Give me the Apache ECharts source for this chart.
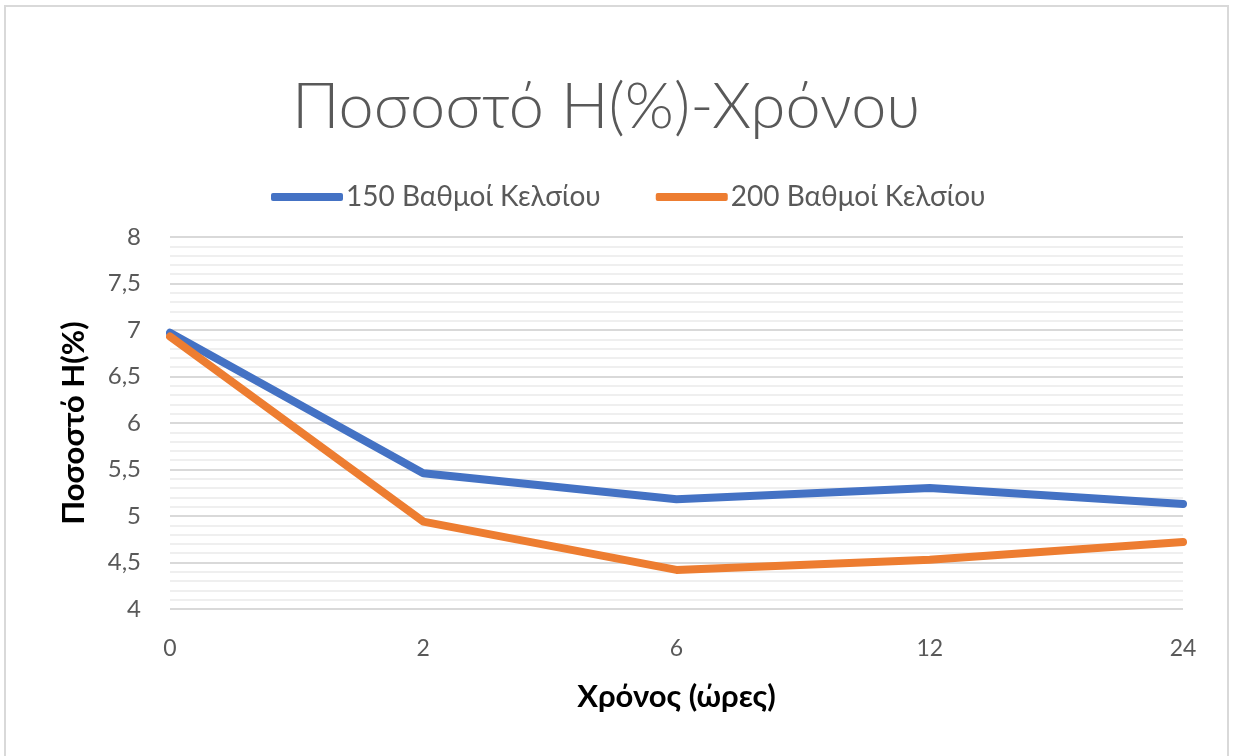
<!DOCTYPE html>
<html>
<head>
<meta charset="utf-8">
<script src="https://cdn.jsdelivr.net/npm/echarts@6/dist/echarts.min.js"></script>
<style>
  html, body { margin: 0; padding: 0; background: #fff; }
  #frame { position: absolute; left: 4px; top: 5px; width: 1225px; height: 800px; border: 2px solid #d9d9d9; box-sizing: border-box; }
  #chart { position: absolute; left: 0; top: 0; width: 1237px; height: 756px; }
</style>
</head>
<body>
<div id="frame"></div>
<div id="chart"></div>
<script>
// Hours of treatment
const hours = ['0', '2', '6', '12', '24'];
// Moisture content H(%) at each time
const series150 = [6.97, 5.46, 5.18, 5.30, 5.13];
const series200 = [6.93, 4.94, 4.42, 4.53, 4.72];
const seriesNames = ['150 Βαθμοί Κελσίου', '200 Βαθμοί Κελσίου'];

const FONT = 'Lato, "Open Sans", sans-serif';
const chart = echarts.init(document.getElementById('chart'), null, { renderer: 'canvas' });

const lineSeries = (name, data, color) => ({
  name: name,
  type: 'line',
  data: data,
  showSymbol: false,
  symbol: 'none',
  smooth: false,
  lineStyle: { color: color, width: 8, cap: 'round', join: 'round' },
  itemStyle: { color: color },
  emphasis: { disabled: true }
});

chart.setOption({
  animation: false,
  backgroundColor: 'transparent',
  title: {
    text: 'Ποσοστό Η(%)-Χρόνου',
    left: 287,
    top: 71,
    textStyle: { fontFamily: FONT, fontWeight: 300, fontSize: 63, color: '#595959' }
  },
  legend: {
    top: 178,
    left: 266,
    icon: 'roundRect',
    itemWidth: 72,
    itemHeight: 8,
    itemGap: 55,
    textStyle: { fontFamily: FONT, fontSize: 28, color: '#595959', padding: [0, 0, 0, -2] },
    data: seriesNames
  },
  grid: { left: 170, right: 54, top: 237, bottom: 147, containLabel: false },
  xAxis: {
    type: 'category',
    data: hours,
    boundaryGap: false,
    axisLine: { show: false },
    axisTick: { show: false },
    axisLabel: { fontFamily: FONT, fontSize: 23, color: '#595959', margin: 28 },
    name: 'Χρόνος (ώρες)',
    nameLocation: 'middle',
    nameGap: 72,
    nameTextStyle: { fontFamily: FONT, fontWeight: 'bold', fontSize: 31, color: '#000' }
  },
  yAxis: {
    type: 'value',
    min: 4,
    max: 8,
    interval: 0.5,
    axisLine: { show: false },
    axisTick: { show: false },
    axisLabel: {
      fontFamily: FONT, fontSize: 24, color: '#595959', margin: 29,
      formatter: v => String(v).replace('.', ',')
    },
    splitLine: { show: true, lineStyle: { color: '#d9d9d9', width: 2 } },
    minorTick: { show: false, splitNumber: 5 },
    minorSplitLine: { show: true, lineStyle: { color: '#efefef', width: 2 } },
    name: 'Ποσοστό Η(%)',
    nameLocation: 'middle',
    nameGap: 81,
    nameTextStyle: { fontFamily: FONT, fontWeight: 'bold', fontSize: 31, color: '#000' }
  },
  series: [
    lineSeries(seriesNames[0], series150, '#4472C4'),
    lineSeries(seriesNames[1], series200, '#ED7D31')
  ]
});
</script>
</body>
</html>
